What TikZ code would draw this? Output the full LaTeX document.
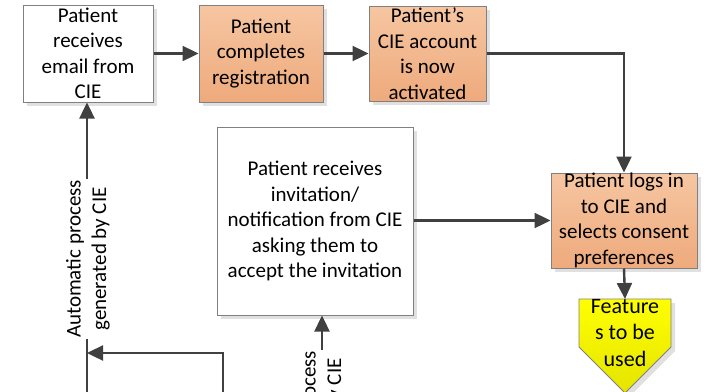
\documentclass[tikz,border=0pt]{standalone}
\usepackage{fontspec}
\setmainfont{Carlito}
\usetikzlibrary{arrows.meta,shadows}
\definecolor{linegray}{HTML}{404040}
\definecolor{edgegray}{HTML}{808080}
\definecolor{peachtop}{HTML}{F6C6A2}
\definecolor{peachbot}{HTML}{EEAA7C}
\definecolor{yellowtop}{HTML}{FFFF00}
\definecolor{yellowbot}{HTML}{E4E400}

\begin{document}
\begin{tikzpicture}[x=1pt,y=-1pt,
  txt/.style={font=\fontsize{21}{25.5}\selectfont},
  box/.style={txt, draw=edgegray, line width=1pt, align=center, inner sep=0pt,
    drop shadow={shadow xshift=4pt, shadow yshift=-4pt, fill=black!12, opacity=1}},
  plainbox/.style={box, fill=white},
  peachbox/.style={box, top color=peachtop, bottom color=peachbot},
  flow/.style={draw=linegray, line width=2.4pt, -{Triangle[length=16pt,width=15pt]}},
  flowline/.style={draw=linegray, line width=2.4pt},
  sidelabel/.style={txt, fill=white, rotate=90, align=center, inner sep=1pt}
]
\useasboundingbox (0,0) rectangle (709,391);
\clip (0,0) rectangle (709,391);

% process boxes
\node[plainbox, minimum width=130pt, minimum height=97pt] (b1) at (88,53.5)
  {Patient\\receives\\email from\\CIE};
\node[peachbox, minimum width=124pt, minimum height=97pt] (b2) at (261,53.5)
  {Patient\\completes\\registration};
\node[peachbox, minimum width=117pt, minimum height=95pt] (b3) at (427.5,53.5)
  {Patient’s\\CIE account\\is now\\activated};
\node[peachbox, minimum width=146pt, minimum height=95pt] (b4) at (624,220.5)
  {Patient logs in\\to CIE and\\selects consent\\preferences};
\node[plainbox, minimum width=196pt, minimum height=188pt] (mid) at (315,221)
  {Patient receives\\invitation/\\notification from CIE\\asking them to\\accept the invitation};

% off-page connector shape
\path[draw=edgegray, line width=0.8pt, top color=yellowtop, bottom color=yellowbot,
  drop shadow={shadow xshift=4pt, shadow yshift=-4pt, fill=black!12, opacity=1}]
  (579,299) -- (671,299) -- (671,347) -- (625,393) -- (579,347) -- cycle;
\node[align=center, inner sep=0pt, font=\fontsize{22}{26.5}\selectfont] (feat) at (625,333)
  {Feature\\s to be\\used};
\coordinate (ftop) at (625,299);

% connectors
\draw[flow] (b1) -- (b2);
\draw[flow] (b2) -- (b3);
\draw[flow] (b3.east) -| (b4.north);
\draw[flow] (mid.east |- b4.west) -- (b4.west);
\draw[flow] (b4.south) -- (ftop);

\coordinate (lbot) at (87,420);
\coordinate (cbot) at (223,420);
\coordinate (cjoin) at (87,353);
\coordinate (mbot) at (322,480);

\draw[flow] (lbot) -- (b1.south -| lbot);
\draw[flow] (cbot) |- (cjoin);
\draw[flow] (mbot) -- (mid.south -| mbot);

\node[sidelabel] (lab1) at (88,259) {Automatic process\\generated by CIE};
\node[sidelabel] (lab2) at (323,430) {Automatic process\\generated by CIE};
\end{tikzpicture}
\end{document}
